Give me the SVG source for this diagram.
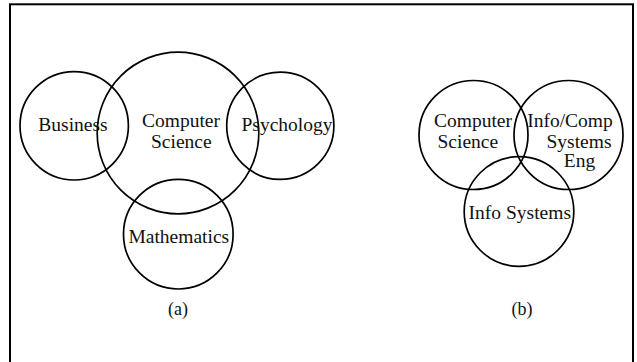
<svg xmlns="http://www.w3.org/2000/svg" width="637" height="362" viewBox="0 0 637 362">
<style>
.c{fill:none;stroke:#000;stroke-width:1.7}
.t{font-family:"Liberation Serif","Times New Roman",serif;font-size:19.5px;fill:#111}
.m{text-anchor:middle}
.lbl{font-family:"Liberation Serif","Times New Roman",serif;font-size:18px;fill:#111;text-anchor:middle}
</style>
<rect x="10" y="4.3" width="623" height="400" fill="#fff" stroke="#000" stroke-width="2"/>
<g id="a-business"><circle class="c" cx="74.2" cy="125.8" r="54.2"/><text class="t m" x="73" y="130.5">Business</text></g>
<g id="a-cs"><circle class="c" cx="178" cy="133" r="80.8"/><text class="t" x="142" y="126.5">Computer</text><text class="t" x="151" y="148">Science</text></g>
<g id="a-psych"><circle class="c" cx="280.3" cy="125.8" r="53.6"/><text class="t m" x="287" y="131">Psychology</text></g>
<g id="a-math"><circle class="c" cx="178.3" cy="234.2" r="54.8"/><text class="t m" x="178.8" y="243">Mathematics</text></g>
<text class="lbl" x="178" y="315">(a)</text>
<g id="b-cs"><circle class="c" cx="473.5" cy="135" r="54.5"/><text class="t" x="434" y="126.5">Computer</text><text class="t" x="437.5" y="147.5">Science</text></g>
<g id="b-ice"><circle class="c" cx="568.5" cy="135" r="54.5"/><text class="t m" x="570" y="126.5">Info/Comp</text><text class="t m" x="579" y="147.5">Systems</text><text class="t m" x="579.5" y="167">Eng</text></g>
<g id="b-is"><circle class="c" cx="519" cy="211.5" r="54.8"/><text class="t m" x="519.8" y="219">Info Systems</text></g>
<text class="lbl" x="522" y="315">(b)</text>
<g id="connectors"/>
</svg>
